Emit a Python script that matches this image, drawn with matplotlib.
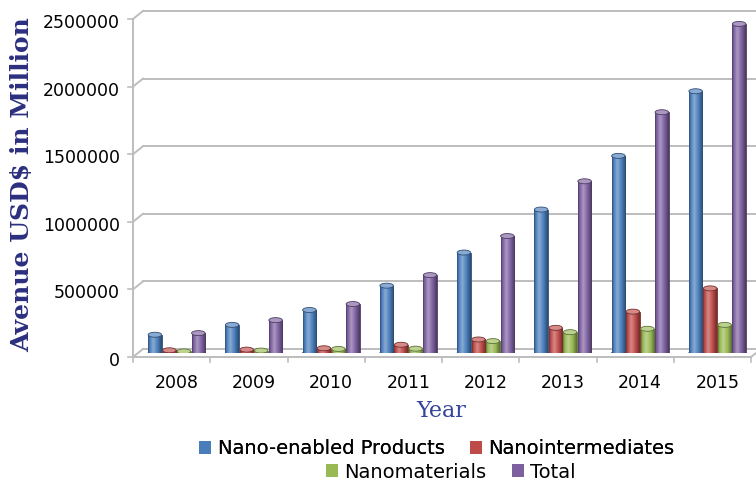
import numpy as np
import matplotlib
matplotlib.use("Agg")
import matplotlib.pyplot as plt
import matplotlib.transforms as mtransforms
from matplotlib.patches import Ellipse, Patch
from matplotlib.colors import LinearSegmentedColormap, to_rgb

years = ['2008', '2009', '2010', '2011', '2012', '2013', '2014', '2015']
nano_products = [135000, 208000, 318000, 498000, 743000, 1061000, 1458000, 1936000]
nano_intermediates = [20000, 25000, 35000, 61000, 100000, 186000, 306000, 478000]
nano_materials = [12000, 18000, 30000, 32000, 88000, 154000, 179000, 208000]
total = [147000, 243000, 362000, 576000, 865000, 1270000, 1781000, 2434000]

series_names = ['Nano-enabled Products', 'Nanointermediates', 'Nanomaterials', 'Total']
series_vals = [nano_products, nano_intermediates, nano_materials, total]
series_cols = ['#4a7ebb', '#be4b48', '#98b954', '#7d60a0']
yticks = [0, 500000, 1000000, 1500000, 2000000, 2500000]

W, H = 756, 482
fig = plt.figure(figsize=(W / 100, H / 100), dpi=100)
# axes = the mid-depth plane of the pseudo 3d box (pixel geometry)
ax_l, ax_r, ax_b, ax_t = 138, 756, 353, 15
ax = fig.add_axes([ax_l / W, 1 - ax_b / H, (ax_r - ax_l) / W, (ax_b - ax_t) / H])
xmin, xmax, ymax = -0.5, 7.5, 2500000
sx = (xmax - xmin) / (ax_r - ax_l)   # data units per pixel
sy = ymax / (ax_b - ax_t)
dx, dy = 5, 4                       # depth offset in pixels

grid_c = '#bdbdbd'
# back wall gridlines + diagonal to the front axis
for v in yticks:
    ax.plot([xmin + dx * sx, xmax + dx * sx], [v + dy * sy] * 2, color=grid_c, lw=1.4, clip_on=False, zorder=0)
    ax.plot([xmin - dx * sx, xmin + dx * sx], [v - dy * sy, v + dy * sy], color=grid_c, lw=1.4, clip_on=False, zorder=0)
    ax.plot([xmin - dx * sx - 5 * sx, xmin - dx * sx], [v - dy * sy] * 2, color=grid_c, lw=1.2, clip_on=False, zorder=0)
# front vertical axis
ax.plot([xmin - dx * sx] * 2, [-dy * sy, ymax - dy * sy], color=grid_c, lw=1.4, clip_on=False, zorder=0)
# front floor edge with category ticks
ax.plot([xmin - dx * sx, xmax - dx * sx], [-dy * sy] * 2, color=grid_c, lw=1.4, clip_on=False, zorder=0)
ax.plot([xmax - dx * sx, xmax + dx * sx], [-dy * sy, dy * sy], color=grid_c, lw=1.4, clip_on=False, zorder=0)
for k in range(len(years) + 1):
    xb = k - 0.5 - dx * sx
    ax.plot([xb, xb], [-dy * sy, -(dy + 5) * sy], color=grid_c, lw=1.2, clip_on=False, zorder=0)

# cylinders
slot = 0.1875
bw = 0.175
cap_h = 5 * sy
grad = np.linspace(0, 1, 64).reshape(1, -1)
x = np.arange(len(years))
for i, (vals, col) in enumerate(zip(series_vals, series_cols)):
    base = np.array(to_rgb(col))
    dark = base * 0.62
    light = base + (1 - base) * 0.35
    cmap = LinearSegmentedColormap.from_list(
        'cyl%d' % i, [(0, dark), (0.12, base), (0.38, light), (0.7, base), (1, dark * 0.95)])
    xs = x + (i - 1.5) * slot
    bars = ax.bar(xs, vals, bw, color=col, edgecolor=dark, lw=0.6, zorder=3)
    for bar, xc, v in zip(bars, xs, vals):
        ax.add_patch(Ellipse((xc, 0), bw, cap_h, facecolor=dark, edgecolor=dark, lw=0.6, zorder=2))
        im = ax.imshow(grad, extent=(xc - bw / 2, xc + bw / 2, 0, v), aspect='auto',
                       cmap=cmap, origin='lower', zorder=3.5, interpolation='bilinear')
        im.set_clip_path(bar)
        ax.add_patch(Ellipse((xc, v), bw, cap_h, facecolor=light, edgecolor=dark, lw=0.6, zorder=4))

ax.set_xlim(xmin, xmax)
ax.set_ylim(0, ymax)
for s in ax.spines.values():
    s.set_visible(False)

ax.set_yticks(yticks)
ax.set_yticklabels([str(v) for v in yticks], fontsize=12.5, color='#000000')
ax.tick_params(axis='y', length=0, pad=13)
ax.set_xticks(x)
ax.set_xticklabels(years, fontsize=12.5, color='#000000')
ax.tick_params(axis='x', length=0, pad=15)
off = mtransforms.ScaledTranslation(0, -6 / 100, fig.dpi_scale_trans)
for lab in ax.get_yticklabels():
    lab.set_transform(lab.get_transform() + off)

fig.text(22 / W, 1 - 185 / H, 'Avenue USD$ in Million', rotation=90, ha='center', va='center',
         family='DejaVu Serif', weight='bold', fontsize=18, color='#2b2f7e')
fig.text(441 / W, 1 - 411 / H, 'Year', ha='center', va='center',
         family='DejaVu Serif', fontsize=16, color='#34449a')

handles = [Patch(facecolor=c, edgecolor='none') for c in series_cols]
leg1 = fig.legend(handles[:2], series_names[:2], loc='center', bbox_to_anchor=(437 / W, 1 - 449 / H),
                  ncol=2, frameon=False, fontsize=14, handlelength=0.6, handleheight=0.6,
                  handletextpad=0.35, columnspacing=1.3, borderpad=0)
fig.add_artist(leg1)
fig.legend(handles[2:], series_names[2:], loc='center', bbox_to_anchor=(451 / W, 1 - 472 / H),
           ncol=2, frameon=False, fontsize=14, handlelength=0.6, handleheight=0.6,
           handletextpad=0.35, columnspacing=1.3, borderpad=0)

fig.savefig('out.png', dpi=100)
